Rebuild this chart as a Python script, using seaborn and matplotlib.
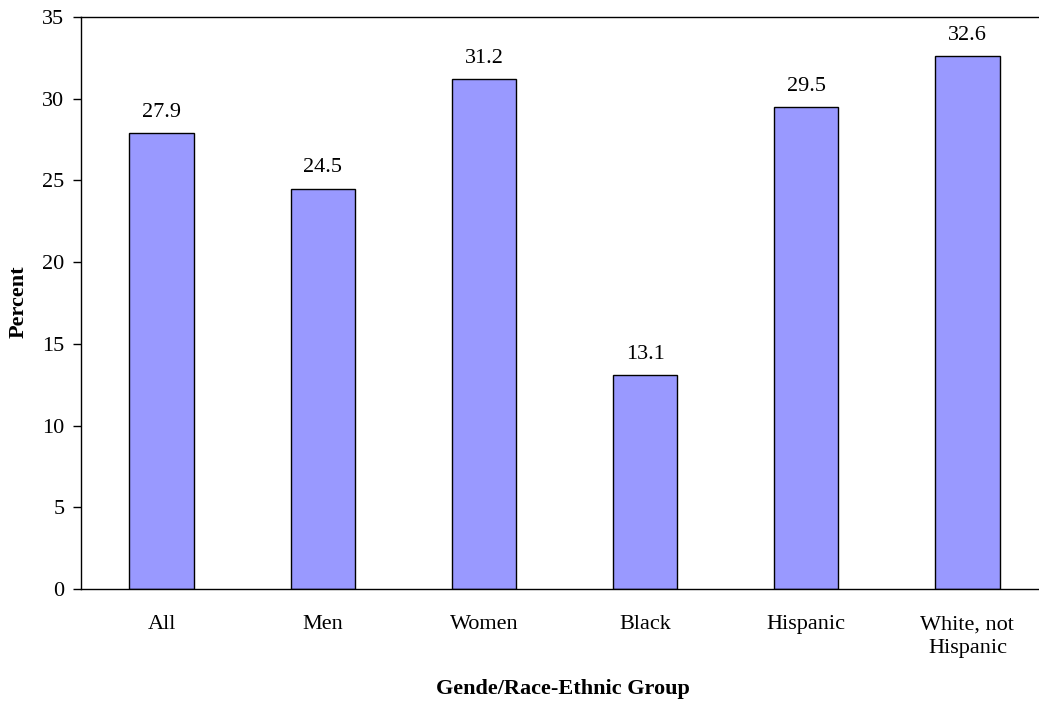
import matplotlib
matplotlib.use("Agg")
import matplotlib.pyplot as plt
import seaborn as sns
import pandas as pd

groups = ["All", "Men", "Women", "Black", "Hispanic", "White, not\nHispanic"]
percent = [27.9, 24.5, 31.2, 13.1, 29.5, 32.6]
y_ticks = [0, 5, 10, 15, 20, 25, 30, 35]

sns.set_theme(style="white")
plt.rcParams["font.family"] = ["Liberation Serif", "DejaVu Serif"]
plt.rcParams["text.color"] = "black"
plt.rcParams["xtick.color"] = "black"
plt.rcParams["ytick.color"] = "black"
plt.rcParams["axes.labelcolor"] = "black"

df = pd.DataFrame({"group": groups, "percent": percent})

fig = plt.figure(figsize=(10.39, 7.02), dpi=100)
ax = fig.add_axes([81 / 1039, 113 / 702, 967 / 1039, 572 / 702])

sns.barplot(data=df, x="group", y="percent", color="#9999FF", saturation=1,
            edgecolor="black", linewidth=1.0, width=0.4, ax=ax)

ax.set_ylim(0, 35)
ax.set_xlim(-0.5, len(groups) - 0.5)
ax.set_yticks(y_ticks)
ax.set_yticklabels([str(t) for t in y_ticks], fontsize=16)

# category labels centred under bars, tick marks between categories
ax.set_xticks(range(len(groups)))
ax.set_xticklabels(groups, fontsize=16, linespacing=1.35)
ax.tick_params(axis="x", which="major", length=0, pad=19)
ax.set_xticks([i - 0.5 for i in range(len(groups) + 1)], minor=True)
ax.tick_params(axis="x", which="minor", length=5, width=1, color="black", direction="out")
ax.tick_params(axis="y", length=6, width=1, color="black", direction="out", left=True, pad=6)

for side in ["left", "bottom", "top"]:
    ax.spines[side].set_visible(True)
    ax.spines[side].set_color("black")
    ax.spines[side].set_linewidth(1.0)
ax.spines["right"].set_visible(False)

for i, v in enumerate(percent):
    ax.text(i, v + 1.27, f"{v:.1f}", ha="center", va="center", fontsize=16)

ax.set_xlabel("")
ax.set_ylabel("")
fig.text(19 / 1039, 1 - 302 / 702, "Percent", rotation=90, ha="center", va="center",
         fontsize=16, fontweight="bold")
fig.text(563 / 1039, 1 - 689 / 702, "Gende/Race-Ethnic Group", ha="center", va="center",
         fontsize=16, fontweight="bold")

fig.savefig("out.png", dpi=100, facecolor="white")
